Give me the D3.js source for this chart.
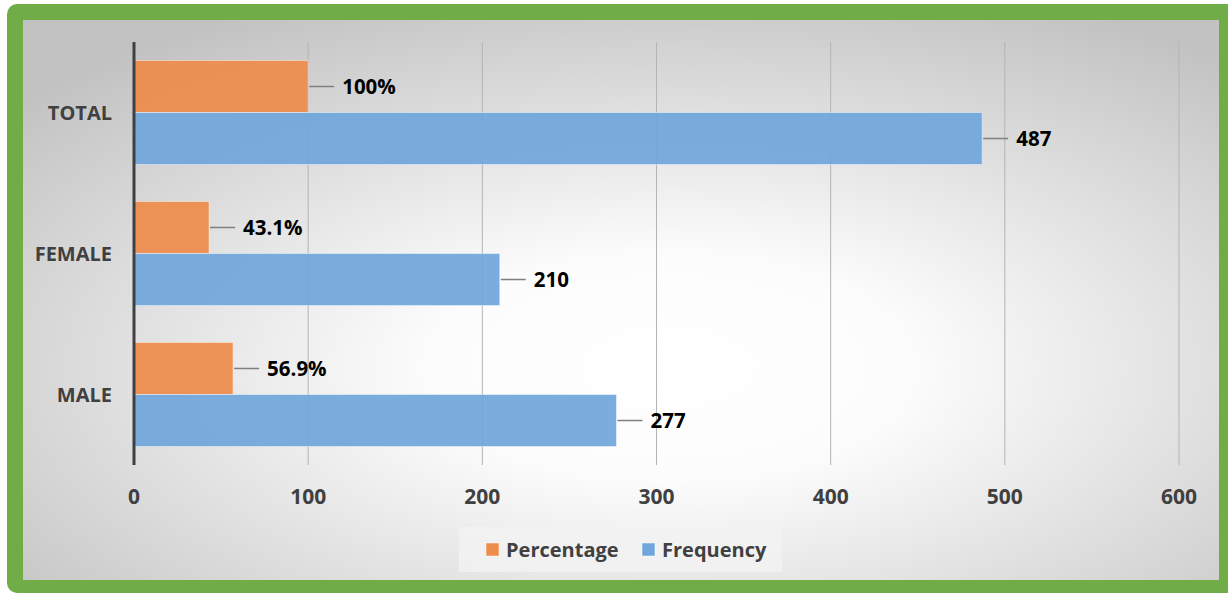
<!DOCTYPE html>
<html>
<head>
<meta charset="utf-8">
<script src="https://cdn.jsdelivr.net/npm/d3@7"></script>
<style>
  body { margin: 0; background: #fff; }
  svg { display: block; font-family: "Open Sans", "Noto Sans", sans-serif; }
  .cat { font-size: 20px; font-weight: 700; fill: #404040; }
  .tick-lbl { font-size: 21px; font-weight: 700; fill: #404040; }
  .val { font-size: 20.5px; font-weight: 700; fill: #000; }
  .leg { font-size: 20px; font-weight: 700; fill: #404040; }
</style>
</head>
<body>
<div id="chart"></div>
<script>
// Gender breakdown: frequency and percentage, horizontal grouped bars.

const categories = ["TOTAL", "FEMALE", "MALE"];
const seriesNames = ["Percentage", "Frequency"];
const percentage = [100, 43.1, 56.9];
const frequency = [487, 210, 277];
const percentLabels = ["100%", "43.1%", "56.9%"];
const xTicks = [0, 100, 200, 300, 400, 500, 600];

const W = 1228, H = 594;
const colors = { Percentage: "#ED8C4C", Frequency: "#70A7DA" };

const svg = d3.select("#chart").append("svg").attr("width", W).attr("height", H);

// --- frame + background ---
const defs = svg.append("defs");
const grad = defs.append("radialGradient").attr("id", "bg")
  .attr("cx", "54%").attr("cy", "62%").attr("r", "72%");
grad.append("stop").attr("offset", "0%").attr("stop-color", "#ffffff");
grad.append("stop").attr("offset", "28%").attr("stop-color", "#fcfcfc");
grad.append("stop").attr("offset", "100%").attr("stop-color", "#c2c2c2");

svg.append("rect").attr("x", 7).attr("y", 4).attr("width", 1240).attr("height", 589)
  .attr("rx", 10).attr("fill", "#70AD47");
svg.append("rect").attr("x", 23).attr("y", 20).attr("width", 1196).attr("height", 560)
  .attr("fill", "url(#bg)");

// --- scales ---
const x = d3.scaleLinear().domain([0, 600]).range([134, 1179]);
const y = d3.scaleBand().domain(categories).range([42, 465])
  .paddingInner(0.262).paddingOuter(0.131);
const ySub = d3.scaleBand().domain(seriesNames).range([0, y.bandwidth()]);

// gridlines (run a bit below the plot as tick marks)
svg.append("g").selectAll("line").data(xTicks.slice(1)).enter().append("line")
  .attr("x1", (d) => x(d)).attr("x2", (d) => x(d))
  .attr("y1", 42).attr("y2", 465)
  .attr("stroke", "#b4b4b4").attr("stroke-width", 1);

// bars
const rows = categories.map((c, i) => ({
  cat: c,
  vals: [
    { s: "Percentage", v: percentage[i], label: percentLabels[i] },
    { s: "Frequency", v: frequency[i], label: String(frequency[i]) },
  ],
}));

const grp = svg.append("g").selectAll("g").data(rows).enter().append("g")
  .attr("transform", (d) => `translate(0,${y(d.cat)})`);

grp.selectAll("rect").data((d) => d.vals).enter().append("rect")
  .attr("x", x(0)).attr("y", (d) => ySub(d.s))
  .attr("width", (d) => x(d.v) - x(0)).attr("height", ySub.bandwidth())
  .attr("fill", (d) => colors[d.s]).attr("fill-opacity", 0.93)
  .attr("stroke", "rgba(255,255,255,0.45)").attr("stroke-width", 1);

// leader lines + value labels
grp.selectAll("line.lead").data((d) => d.vals).enter().append("line")
  .attr("class", "lead")
  .attr("x1", (d) => x(d.v) + 1).attr("x2", (d) => x(d.v) + 26)
  .attr("y1", (d) => ySub(d.s) + ySub.bandwidth() / 2)
  .attr("y2", (d) => ySub(d.s) + ySub.bandwidth() / 2)
  .attr("stroke", "#7f7f7f").attr("stroke-width", 1.5);

grp.selectAll("text.val").data((d) => d.vals).enter().append("text")
  .attr("class", "val")
  .attr("x", (d) => x(d.v) + 34)
  .attr("y", (d) => ySub(d.s) + ySub.bandwidth() / 2)
  .attr("dy", "0.35em")
  .text((d) => d.label);

// y axis line
svg.append("line").attr("x1", x(0)).attr("x2", x(0)).attr("y1", 42).attr("y2", 465)
  .attr("stroke", "#404040").attr("stroke-width", 3);

// category labels
svg.append("g").selectAll("text").data(categories).enter().append("text")
  .attr("class", "cat")
  .attr("x", 112).attr("y", (d) => y(d) + y.bandwidth() / 2)
  .attr("dy", "0.35em").attr("text-anchor", "end")
  .text((d) => d);

// x tick labels
svg.append("g").selectAll("text").data(xTicks).enter().append("text")
  .attr("class", "tick-lbl")
  .attr("x", (d) => x(d)).attr("y", 497)
  .attr("dy", "0.35em").attr("text-anchor", "middle")
  .text((d) => d);

// legend
const leg = svg.append("g");
leg.append("rect").attr("x", 459).attr("y", 527).attr("width", 323).attr("height", 45)
  .attr("fill", "#f2f2f2").attr("fill-opacity", 0.8);
const legX = [486, 642];
seriesNames.forEach((s, i) => {
  leg.append("rect").attr("x", legX[i]).attr("y", 543).attr("width", 13).attr("height", 13)
    .attr("fill", colors[s]).attr("stroke", "rgba(255,255,255,0.5)");
  leg.append("text").attr("class", "leg")
    .attr("x", legX[i] + 20).attr("y", 550).attr("dy", "0.35em")
    .text(s);
});
</script>
</body>
</html>
